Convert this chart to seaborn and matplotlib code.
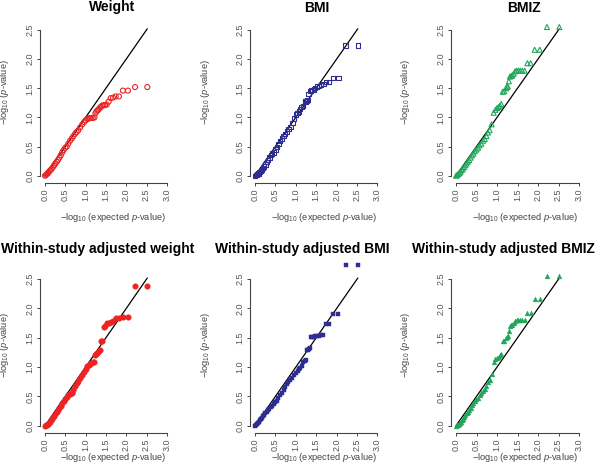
import matplotlib
matplotlib.use("Agg")
import matplotlib.pyplot as plt
import seaborn as sns
import pandas as pd

# ---------------- data ----------------
expected = [2.520, 2.219, 2.043, 1.918, 1.821, 1.742, 1.675, 1.617, 1.566, 1.520,
            1.478, 1.441, 1.406, 1.374, 1.344, 1.316, 1.289, 1.264, 1.241, 1.219,
            1.177, 1.140, 1.105, 1.073, 1.043, 1.001, 0.963, 0.918, 0.867, 0.821,
            0.779, 0.742, 0.700, 0.662, 0.617, 0.575, 0.537, 0.499, 0.459, 0.423,
            0.389, 0.355, 0.321, 0.290, 0.257, 0.227, 0.198, 0.167, 0.140, 0.113,
            0.088, 0.065, 0.043, 0.022, 0.001]

weight_obs = [1.52, 1.52, 1.46, 1.46, 1.36, 1.36, 1.34, 1.33, 1.27, 1.22,
              1.21, 1.21, 1.20, 1.18, 1.16, 1.13, 1.12, 1.10, 1.07, 1.00,
              0.99, 0.99, 0.99, 0.98, 0.97, 0.95, 0.92, 0.88, 0.83, 0.78,
              0.75, 0.72, 0.68, 0.64, 0.60, 0.55, 0.50, 0.48, 0.44, 0.40,
              0.35, 0.31, 0.27, 0.24, 0.21, 0.18, 0.15, 0.12, 0.10, 0.08,
              0.06, 0.04, 0.025, 0.01, 0.0]

bmi_obs = [2.23, 2.23, 1.68, 1.68, 1.61, 1.61, 1.57, 1.56, 1.54, 1.53,
           1.50, 1.48, 1.47, 1.46, 1.45, 1.40, 1.30, 1.28, 1.27, 1.27,
           1.20, 1.18, 1.14, 1.10, 1.08, 1.05, 0.98, 0.90, 0.84, 0.80,
           0.76, 0.72, 0.68, 0.64, 0.59, 0.54, 0.49, 0.45, 0.40, 0.38,
           0.35, 0.31, 0.27, 0.23, 0.19, 0.16, 0.13, 0.10, 0.08, 0.06,
           0.04, 0.03, 0.02, 0.01, 0.0]

bmiz_obs = [2.55, 2.55, 2.16, 2.16, 1.93, 1.93, 1.80, 1.80, 1.80, 1.80,
            1.80, 1.79, 1.75, 1.72, 1.71, 1.70, 1.62, 1.53, 1.52, 1.50,
            1.45, 1.44, 1.23, 1.20, 1.18, 1.16, 1.13, 1.08, 0.88, 0.78,
            0.74, 0.68, 0.63, 0.60, 0.55, 0.52, 0.48, 0.45, 0.42, 0.38,
            0.35, 0.31, 0.27, 0.24, 0.21, 0.18, 0.15, 0.12, 0.10, 0.07,
            0.05, 0.035, 0.02, 0.01, 0.0]

adj_weight_obs = [2.39, 2.39, 1.86, 1.86, 1.83, 1.83, 1.78, 1.77, 1.76, 1.76,
                  1.70, 1.69, 1.45, 1.45, 1.30, 1.26, 1.24, 1.22, 1.21, 1.09,
                  1.08, 1.07, 1.06, 1.04, 1.02, 0.96, 0.92, 0.87, 0.82, 0.77,
                  0.73, 0.68, 0.61, 0.56, 0.54, 0.52, 0.49, 0.46, 0.42, 0.38,
                  0.34, 0.30, 0.26, 0.23, 0.20, 0.17, 0.14, 0.11, 0.09, 0.07,
                  0.05, 0.035, 0.02, 0.01, 0.0]

adj_bmi_obs = [2.74, 2.74, 1.91, 1.91, 1.74, 1.74, 1.54, 1.54, 1.53, 1.53,
               1.53, 1.52, 1.51, 1.51, 1.32, 1.31, 1.30, 1.30, 1.12, 1.10,
               1.08, 1.02, 0.98, 0.96, 0.93, 0.90, 0.87, 0.82, 0.78, 0.75,
               0.71, 0.66, 0.61, 0.56, 0.52, 0.48, 0.43, 0.40, 0.37, 0.34,
               0.32, 0.29, 0.26, 0.24, 0.21, 0.18, 0.16, 0.13, 0.11, 0.09,
               0.07, 0.05, 0.03, 0.01, 0.0]

adj_bmiz_obs = [2.55, 2.55, 2.16, 2.16, 1.93, 1.93, 1.80, 1.80, 1.80, 1.80,
                1.80, 1.79, 1.75, 1.72, 1.71, 1.70, 1.62, 1.53, 1.52, 1.50,
                1.45, 1.44, 1.23, 1.20, 1.18, 1.16, 1.13, 1.08, 0.88, 0.78,
                0.74, 0.68, 0.63, 0.60, 0.55, 0.52, 0.48, 0.45, 0.42, 0.38,
                0.35, 0.31, 0.27, 0.24, 0.21, 0.18, 0.15, 0.12, 0.10, 0.07,
                0.05, 0.035, 0.02, 0.01, 0.0]

titles = ["Weight", "BMI", "BMIZ",
          "Within-study adjusted weight", "Within-study adjusted BMI",
          "Within-study adjusted BMIZ"]
x_ticks = [0.0, 0.5, 1.0, 1.5, 2.0, 2.5, 3.0]
y_ticks = [0.0, 0.5, 1.0, 1.5, 2.0, 2.5]

# ---------------- style ----------------
sns.set_theme(style="white")
plt.rcParams["font.family"] = ["Liberation Sans", "DejaVu Sans"]
plt.rcParams["mathtext.fontset"] = "custom"
plt.rcParams["mathtext.rm"] = "Liberation Sans"
plt.rcParams["mathtext.it"] = "Liberation Sans:italic"
plt.rcParams["mathtext.bf"] = "Liberation Sans:bold"

W, H = 600, 473
fig = plt.figure(figsize=(6.0, 4.73), dpi=100)

RED, BLUE, GREEN = "#ec2424", "#2e2e92", "#20a65a"
panels = [
    (weight_obs, RED, "o", False, 13),
    (bmi_obs, BLUE, "s", False, 10),
    (bmiz_obs, GREEN, "^", False, 13),
    (adj_weight_obs, RED, "o", True, 16),
    (adj_bmi_obs, BLUE, "s", True, 6.5),
    (adj_bmiz_obs, GREEN, "^", True, 12),
]

x0_px = [45, 255, 456]           # pixel of x=0 for each column
xscale = [40.6, 40.8, 41.0]      # px per unit
y0_px = [175.7, 425.7]           # pixel (from top) of y=0 for each row
yscale = [58.3, 58.6]
ylab_x = [5, 205, 405]
ylab_units = [1.43, 1.38]
title_cx = [112, 317, 524, 98, 302, 503]
title_base = [11.5, 253.5]
xlab_y = [217, 457]

XL = (-0.12, 3.12)
YL = (-0.12, 2.9)

for i, (obs, col, mk, filled, size) in enumerate(panels):
    r, c = divmod(i, 3)
    left_px = x0_px[c] + XL[0] * xscale[c]
    width_px = (XL[1] - XL[0]) * xscale[c]
    bottom_px = y0_px[r] - YL[0] * yscale[r]
    height_px = (YL[1] - YL[0]) * yscale[r]
    ax = fig.add_axes([left_px / W, (H - bottom_px) / H, width_px / W, height_px / H])
    ax.set_facecolor("none")

    df = pd.DataFrame({"expected": expected, "observed": obs})
    emax = max(expected)
    ax.plot([0, emax], [0, emax], color="black", lw=0.9, zorder=1)
    if filled:
        sns.scatterplot(data=df, x="expected", y="observed", ax=ax, marker=mk,
                        color=col, edgecolor=col, s=size, linewidth=0.3, zorder=3)
    else:
        sns.scatterplot(data=df, x="expected", y="observed", ax=ax, marker=mk,
                        facecolor="none", edgecolor=col, s=size, linewidth=0.8,
                        zorder=3)

    ax.set_xlim(*XL)
    ax.set_ylim(*YL)
    for s in ["top", "right"]:
        ax.spines[s].set_visible(False)
    for s in ["left", "bottom"]:
        ax.spines[s].set_color("#444444")
        ax.spines[s].set_linewidth(0.8)
    ax.spines["bottom"].set_bounds(0, 3)
    ax.spines["left"].set_bounds(0, 2.5)
    ax.set_xticks(x_ticks)
    ax.set_yticks(y_ticks)
    ax.set_xticklabels([f"{v:.1f}" for v in x_ticks], rotation=90)
    ax.set_yticklabels([f"{v:.1f}" for v in y_ticks], rotation=90, va="center")
    ax.tick_params(axis="both", which="major", direction="out", length=2.5,
                   width=0.7, color="#444444", labelsize=6.5,
                   labelcolor="#555555", pad=1.5, bottom=True, left=True)
    ax.set_xlabel("")
    ax.set_ylabel("")

    # y label
    ycy = (H - (y0_px[r] - ylab_units[r] * yscale[r])) / H
    fig.text(ylab_x[c] / W, ycy, r"$-$log$_{10}$ ($p$-value)", rotation=90,
             ha="center", va="center", fontsize=6.7, color="#444444")
    # x label
    xcx = (x0_px[c] + 1.68 * xscale[c]) / W
    fig.text(xcx, (H - xlab_y[r]) / H, r"$-$log$_{10}$ (expected $p$-value)",
             ha="center", va="center", fontsize=6.7, color="#444444")
    # title
    fig.text(title_cx[i] / W, (H - title_base[r]) / H, titles[i], ha="center",
             va="baseline", fontsize=10, fontweight="bold", color="black")

fig.savefig("out.png", dpi=100)
